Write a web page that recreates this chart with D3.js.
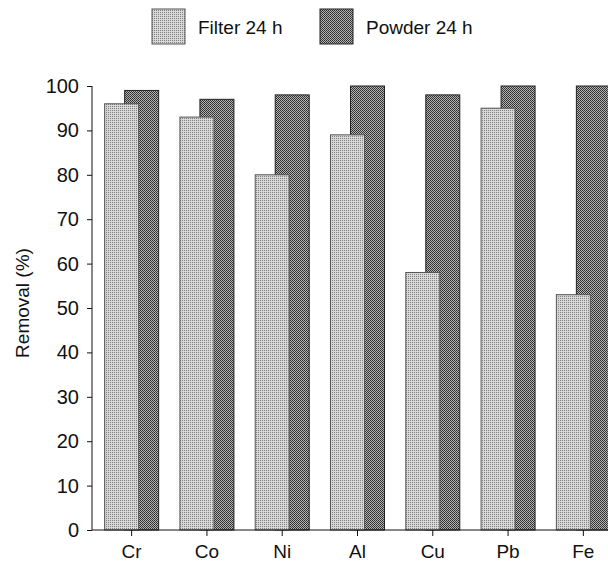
<!DOCTYPE html>
<html><head><meta charset="utf-8">
<script src="https://cdn.jsdelivr.net/npm/d3@7"></script>
<style>body{margin:0;background:#fff}svg{display:block}text{font-family:"Liberation Sans",Arial,sans-serif;fill:#111}</style>
</head><body>
<script>
const categories = ["Cr","Co","Ni","Al","Cu","Pb","Fe"];
const filter24 = [96,93,80,89,58,95,53];
const powder24 = [99,97,98,100,98,100,100];
const seriesNames = ["Filter 24 h","Powder 24 h"];
const yTicks = [0,10,20,30,40,50,60,70,80,90,100];

const W=608,H=561;
const svg=d3.select("body").append("svg").attr("width",W).attr("height",H);
const defs=svg.append("defs");
const pf=defs.append("pattern").attr("id","pf").attr("width",2).attr("height",2).attr("patternUnits","userSpaceOnUse");
pf.append("rect").attr("width",2).attr("height",2).attr("fill","#d8d8d8");
pf.append("rect").attr("width",1).attr("height",1).attr("fill","#808080");
const pp=defs.append("pattern").attr("id","pp").attr("width",2).attr("height",2).attr("patternUnits","userSpaceOnUse");
pp.append("rect").attr("width",2).attr("height",2).attr("fill","#b4b4b4");
pp.append("rect").attr("width",1).attr("height",1).attr("fill","#2a2a2a");
pp.append("rect").attr("x",1).attr("y",1).attr("width",1).attr("height",1).attr("fill","#3a3a3a");

const x=d3.scaleBand().domain(categories).range([94,621]).padding(0);
const y=d3.scaleLinear().domain([0,100]).range([530,86]);
const bw=34, off=20;
const data=categories.map((c,i)=>({c,f:filter24[i],p:powder24[i]}));
const g=svg.append("g");
g.selectAll("rect.p").data(data).join("rect").attr("class","p")
 .attr("x",d=>x(d.c)+x.bandwidth()/2-27+off).attr("width",bw)
 .attr("y",d=>y(d.p)).attr("height",d=>y(0)-y(d.p))
 .attr("fill","url(#pp)").attr("stroke","#222").attr("stroke-width",1);
g.selectAll("rect.f").data(data).join("rect").attr("class","f")
 .attr("x",d=>x(d.c)+x.bandwidth()/2-27).attr("width",bw)
 .attr("y",d=>y(d.f)).attr("height",d=>y(0)-y(d.f))
 .attr("fill","url(#pf)").attr("stroke","#555").attr("stroke-width",1);

const ya=svg.append("g").attr("transform","translate(92,0)")
 .call(d3.axisLeft(y).tickValues(yTicks).tickSize(5).tickPadding(8));
ya.selectAll("text").style("font-size","20px").attr("fill","#111");
ya.selectAll("line,path").attr("stroke","#111");
ya.select(".domain").attr("d","M0,530V86");
const xa=svg.append("g").attr("transform","translate(0,530)")
 .call(d3.axisBottom(x).tickSize(6).tickPadding(6));
xa.selectAll("text").style("font-size","19px").attr("fill","#111").attr("dy","0.85em");
xa.selectAll("line,path").attr("stroke","#111");
xa.select(".domain").attr("d","M92,0H608");

svg.append("text").attr("transform","translate(29,303) rotate(-90)").attr("text-anchor","middle")
 .style("font-size","19px").text("Removal (%)");

const leg=[{n:seriesNames[0],fill:"url(#pf)",x:152,s:"#555"},{n:seriesNames[1],fill:"url(#pp)",x:320,s:"#222"}];
const lg=svg.selectAll("g.leg").data(leg).join("g").attr("class","leg");
lg.append("rect").attr("x",d=>d.x).attr("y",9).attr("width",33).attr("height",35).attr("fill",d=>d.fill).attr("stroke",d=>d.s);
lg.append("text").attr("x",d=>d.x+46).attr("y",34).style("font-size","19px").text(d=>d.n);
</script>
</body></html>
